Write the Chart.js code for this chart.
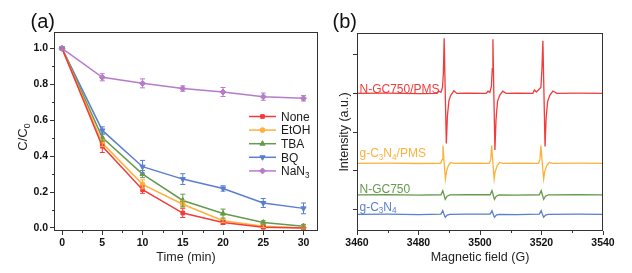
<!DOCTYPE html>
<html><head><meta charset="utf-8">
<script src="https://cdn.jsdelivr.net/npm/chart.js@4.4.1/dist/chart.umd.min.js"></script>
<style>
html,body{margin:0;padding:0;background:#fff;}
#wrap{position:relative;width:632px;height:273px;overflow:hidden;background:#fff;}
#ca{position:absolute;left:0;top:0;}
#cb{position:absolute;left:323px;top:0;}
</style></head><body>
<div id="wrap">
<canvas id="ca" width="323" height="273"></canvas>
<canvas id="cb" width="309" height="273"></canvas>
</div>
<script>
// ---------- Panel (a) data ----------
const timeMin = [0, 5, 10, 15, 20, 25, 30];
const cNone  = [1.0, 0.455, 0.213, 0.083, 0.03, 0.004, 0.0];
const cEtOH  = [1.0, 0.473, 0.243, 0.132, 0.04, 0.01, 0.0];
const cTBA   = [1.0, 0.503, 0.300, 0.153, 0.08, 0.03, 0.01];
const cBQ    = [1.0, 0.543, 0.341, 0.272, 0.22, 0.139, 0.109];
const cNaN3  = [1.0, 0.839, 0.805, 0.776, 0.757, 0.731, 0.722];
const eNone  = [0.005, 0.035, 0.02, 0.025, 0.01, 0.008, 0.005];
const eEtOH  = [0.005, 0.02, 0.025, 0.02, 0.01, 0.008, 0.005];
const eTBA   = [0.005, 0.02, 0.02, 0.035, 0.025, 0.01, 0.01];
const eBQ    = [0.005, 0.02, 0.035, 0.03, 0.015, 0.025, 0.03];
const eNaN3  = [0.008, 0.02, 0.025, 0.015, 0.025, 0.02, 0.015];
const seriesNamesA = ['None', 'EtOH', 'TBA', 'BQ', 'NaN3'];
const xTicksA = [0, 5, 10, 15, 20, 25, 30];
const xMinorA = [2.5, 7.5, 12.5, 17.5, 22.5, 27.5];
const yTicksA = [0.0, 0.2, 0.4, 0.6, 0.8, 1.0];
const yMinorA = [0.1, 0.3, 0.5, 0.7, 0.9];

// ---------- Panel (b) data (EPR spectra, field in G, intensity a.u.) ----------
const fieldRed = [3460,3470,3480,3486.0,3486.6,3487.3,3487.8,3488.1,3488.35,3488.7,3489.05,3489.4,3489.9,3490.5,3491.5,3492.5,3496,
  3502.0,3502.6,3503.2,3503.7,3504.0,3504.2,3504.5,3504.85,3505.2,3505.7,3506.4,3507.4,3508.5,3512,
  3517.2,3517.7,3518.3,3519.8,3520.15,3520.45,3520.8,3521.15,3521.5,3522.0,3522.7,3523.7,3525,3532,3540];
const intRed = [69.5,69.6,69.4,69.5,70.6,70.0,72.5,80,97.3,69.5,44.2,58,66,68.5,70.8,69.5,69.6,
  69.5,70.6,70.0,73,82,96.8,69.5,40.9,56,65.5,68.5,70.6,69.5,69.6,
  69.5,71.2,70.2,72.5,82,96.1,69.5,42.7,57,65.5,68.5,70.7,69.5,69.6,69.5];
const fieldOrange = [3460,3470,3480,3487.2,3487.7,3487.95,3488.35,3488.75,3489.1,3489.7,3490.5,3491.5,3496,
  3503.0,3503.5,3503.8,3504.2,3504.6,3504.95,3505.6,3506.4,3507.4,3512,
  3519.0,3519.5,3519.8,3520.25,3520.7,3521.05,3521.7,3522.5,3523.5,3532,3540];
const intOrange = [34.2,34.3,34.1,34.2,36,43.1,34.2,26.3,30,33,34.6,34.2,34.3,
  34.2,36,43.1,34.2,26.3,30,33,34.6,34.2,34.3,
  34.2,36,43.1,34.2,26.3,30,33,34.6,34.2,34.3,34.2];
const fieldWeak = [3460,3470,3480,3487.3,3487.9,3488.3,3488.7,3489.3,3490.2,3496,
  3503.3,3503.9,3504.3,3504.7,3505.3,3506.2,3512,
  3519.3,3519.9,3520.3,3520.7,3521.3,3522.2,3532,3540];
const intGreen = [18.2,18.4,18.1,18.3,20.4,18.2,16.0,17.6,18.2,18.3,
  18.3,20.4,18.2,16.0,17.6,18.2,18.1,
  18.3,20.4,18.2,16.0,17.6,18.2,18.3,18.2];
const intBlue = [8.4,8.5,8.3,8.5,10.3,8.4,6.9,8.0,8.4,8.5,
  8.5,10.3,8.4,6.9,8.0,8.4,8.3,
  8.5,10.3,8.4,6.9,8.0,8.4,8.5,8.4];
const xTicksB = [3460, 3480, 3500, 3520, 3540];
const xMinorB = [3470, 3490, 3510, 3530];
const yTicksB = [11, 30.5, 50, 69.5, 89];

// ---------- styling helpers ----------
const FF = '"Liberation Sans", Arial, Helvetica, sans-serif';
const RED = '#f23b3b', ORANGE = '#fdb13b', GREEN = '#669a4c', BLUE = '#5a7ed0', PURPLE = '#b67cc9';

function partsOf(name) {
  if (name === 'NaN3') return [['NaN',0],['3',1]];
  if (name === 'g-C3N4/PMS') return [['g-C',0],['3',1],['N',0],['4',1],['/PMS',0]];
  if (name === 'g-C3N4') return [['g-C',0],['3',1],['N',0],['4',1]];
  if (name === 'C/C0') return [['C/C',0],['0',1]];
  return [[name,0]];
}
function drawRich(ctx, parts, x, y, size, align, color, weight) {
  const sub = size * 0.68, w = [];
  let total = 0;
  parts.forEach(([t, s]) => { ctx.font = (weight||'') + ' ' + (s ? sub : size) + 'px ' + FF; const m = ctx.measureText(t).width; w.push(m); total += m; });
  let cx = align === 'center' ? x - total / 2 : x;
  ctx.fillStyle = color; ctx.textBaseline = 'alphabetic'; ctx.textAlign = 'left';
  parts.forEach(([t, s], i) => { ctx.font = (weight||'') + ' ' + (s ? sub : size) + 'px ' + FF; ctx.fillText(t, cx, s ? y + size * 0.22 : y); cx += w[i]; });
}

const framePlugin = {
  id: 'frame',
  afterDraw(chart, args, o) {
    const {ctx, chartArea: a, scales} = chart;
    ctx.save();
    ctx.strokeStyle = '#333'; ctx.lineWidth = 1;
    const l = Math.floor(a.left) + 0.5, t = Math.floor(a.top) + 0.5, r = Math.ceil(a.right) - 0.5, b = Math.ceil(a.bottom) - 0.5;
    ctx.strokeRect(l, t, r - l, b - t);
    ctx.beginPath();
    (o.minorX || []).forEach(v => { const px = Math.round(scales.x.getPixelForValue(v)) + 0.5; ctx.moveTo(px, b); ctx.lineTo(px, b + 2.5); });
    (o.minorY || []).forEach(v => { const py = Math.round(scales.y.getPixelForValue(v)) + 0.5; ctx.moveTo(l, py); ctx.lineTo(l - 2.5, py); });
    ctx.stroke();
    ctx.restore();
  }
};

const errPlugin = {
  id: 'errbars',
  afterDatasetsDraw(chart) {
    const {ctx, scales} = chart;
    chart.data.datasets.forEach((ds, i) => {
      if (!ds.errors) return;
      const meta = chart.getDatasetMeta(i);
      ctx.save();
      ctx.strokeStyle = ds.borderColor; ctx.lineWidth = 1;
      ctx.beginPath();
      meta.data.forEach((pt, j) => {
        const v = ds.data[j].y, e = ds.errors[j];
        const y1 = scales.y.getPixelForValue(v - e), y2 = scales.y.getPixelForValue(v + e);
        ctx.moveTo(pt.x, y1); ctx.lineTo(pt.x, y2);
        ctx.moveTo(pt.x - 2.5, y1); ctx.lineTo(pt.x + 2.5, y1);
        ctx.moveTo(pt.x - 2.5, y2); ctx.lineTo(pt.x + 2.5, y2);
      });
      ctx.stroke();
      ctx.restore();
    });
  }
};

const keyPlugin = {
  id: 'seriesKey',
  afterDraw(chart, args, o) {
    if (!o.show) return;
    const ctx = chart.ctx;
    chart.data.datasets.forEach((ds, i) => {
      const y = o.y + i * o.dy;
      ctx.save();
      ctx.strokeStyle = ds.borderColor; ctx.lineWidth = 1.5;
      ctx.beginPath(); ctx.moveTo(o.x, y); ctx.lineTo(o.x + o.len, y); ctx.stroke();
      ctx.fillStyle = ds.backgroundColor; ctx.lineWidth = 1;
      Chart.helpers.drawPoint(ctx, {pointStyle: ds.pointStyle, rotation: ds.pointRotation || 0, radius: ds.pointRadius, borderWidth: 1}, o.x + o.len / 2, y);
      drawRich(ctx, partsOf(ds.label), o.x + o.len + o.gap, y + 4.3, 12, 'left', '#1a1a1a');
      ctx.restore();
    });
  }
};

const textPlugin = {
  id: 'texts',
  afterDraw(chart, args, o) {
    const ctx = chart.ctx;
    (o.items || []).forEach(it => {
      ctx.save();
      if (it.rot) { ctx.translate(it.x, it.y); ctx.rotate(-Math.PI / 2); drawRich(ctx, partsOf(it.text), 0, it.size * 0.35, it.size, 'center', it.color, it.weight); }
      else drawRich(ctx, partsOf(it.text), it.x, it.y, it.size, it.align || 'left', it.color, it.weight);
      ctx.restore();
    });
  }
};

function axisCommon(extra) {
  return Object.assign({
    type: 'linear',
    grid: {drawOnChartArea: false, drawTicks: true, tickLength: 4, tickColor: '#333', color: '#333', lineWidth: 1},
    border: {display: false},
    ticks: {font: {family: FF, size: 10.5, weight: 'bold'}, color: '#111', padding: 2, maxRotation: 0, autoSkip: false}
  }, extra);
}

// ---------- Panel (a) ----------
const valuesA = [cNone, cEtOH, cTBA, cBQ, cNaN3];
const errorsA = [eNone, eEtOH, eTBA, eBQ, eNaN3];
const colorsA = [RED, ORANGE, GREEN, BLUE, PURPLE];
const stylesA = [['rect', 0, 2.6], ['circle', 0, 2.4], ['triangle', 0, 3], ['triangle', 180, 3], ['rectRot', 0, 3]];
const ordersA = [1, 2, 3, 4, 0];

new Chart(document.getElementById('ca'), {
  type: 'line',
  data: {
    datasets: seriesNamesA.map((name, k) => ({
      label: name,
      data: timeMin.map((t, i) => ({x: t, y: valuesA[k][i]})),
      errors: errorsA[k],
      borderColor: colorsA[k], backgroundColor: colorsA[k],
      pointStyle: stylesA[k][0], pointRotation: stylesA[k][1], pointRadius: stylesA[k][2],
      pointBorderWidth: 1, borderWidth: 1.5, tension: 0, order: ordersA[k]
    }))
  },
  options: {
    responsive: false, animation: false,
    layout: {padding: {left: 0, right: 2, top: 32, bottom: 0}},
    plugins: {
      legend: {display: false}, tooltip: {enabled: false},
      frame: {minorX: xMinorA, minorY: yMinorA},
      seriesKey: {show: true, x: 249, y: 116.5, dy: 13.6, len: 27, gap: 5},
      texts: {items: [
        {text: '(a)', x: 30.5, y: 27.5, size: 20, color: '#111'},
        {text: 'C/C0', x: 22.5, y: 137, size: 13, color: '#222', rot: true}
      ]}
    },
    scales: {
      x: axisCommon({min: -1, max: 31.8,
        afterBuildTicks: s => { s.ticks = xTicksA.map(v => ({value: v})); },
        afterFit: s => { s.height = 42; },
        ticks: {font: {family: FF, size: 10.5, weight: 'bold'}, color: '#111', padding: 2, maxRotation: 0, autoSkip: false, callback: v => String(v)},
        title: {display: true, text: 'Time (min)', font: {family: FF, size: 12.5}, color: '#222', padding: {top: 0, bottom: 8}}
      }),
      y: axisCommon({min: -0.017, max: 1.091,
        afterBuildTicks: s => { s.ticks = yTicksA.map(v => ({value: v})); },
        afterFit: s => { s.width = 54; },
        ticks: {font: {family: FF, size: 10.5, weight: 'bold'}, color: '#111', padding: 2, autoSkip: false, callback: v => Number(v).toFixed(1)}
      })
    }
  },
  plugins: [framePlugin, errPlugin, keyPlugin, textPlugin]
});

// ---------- Panel (b) ----------
const specNames = ['N-GC750/PMS', 'g-C3N4/PMS', 'N-GC750', 'g-C3N4'];
const specFields = [fieldRed, fieldOrange, fieldWeak, fieldWeak];
const specValues = [intRed, intOrange, intGreen, intBlue];
const colorsB = [RED, ORANGE, GREEN, BLUE];

new Chart(document.getElementById('cb'), {
  type: 'line',
  data: {
    datasets: specNames.map((name, k) => ({
      label: name,
      data: specFields[k].map((f, i) => ({x: f, y: specValues[k][i]})),
      borderColor: colorsB[k], backgroundColor: colorsB[k],
      pointRadius: 0, borderWidth: 1.3, tension: 0
    }))
  },
  options: {
    responsive: false, animation: false,
    layout: {padding: {left: 0, right: 29, top: 33, bottom: 0}},
    plugins: {
      legend: {display: false}, tooltip: {enabled: false},
      frame: {minorX: xMinorB, minorY: []},
      texts: {items: [
        {text: '(b)', x: 9.5, y: 27.5, size: 20, color: '#111'},
        {text: specNames[0], x: 36.5, y: 93, size: 12, color: RED},
        {text: specNames[1], x: 36.5, y: 157, size: 12, color: ORANGE},
        {text: specNames[2], x: 36.5, y: 193, size: 12, color: GREEN},
        {text: specNames[3], x: 36.5, y: 210.5, size: 12, color: BLUE}
      ]}
    },
    scales: {
      x: axisCommon({min: 3460, max: 3540,
        afterBuildTicks: s => { s.ticks = xTicksB.map(v => ({value: v})); },
        afterFit: s => { s.height = 42; },
        ticks: {font: {family: FF, size: 10.5, weight: 'bold'}, color: '#111', padding: 2, maxRotation: 0, autoSkip: false, callback: v => String(v)},
        title: {display: true, text: 'Magnetic field (G)', font: {family: FF, size: 12.5}, color: '#222', padding: {top: 0, bottom: 8}}
      }),
      y: axisCommon({min: 0, max: 100,
        afterBuildTicks: s => { s.ticks = yTicksB.map(v => ({value: v})); },
        afterFit: s => { s.width = 34; },
        ticks: {display: false},
        title: {display: true, text: 'Intensity (a.u.)', font: {family: FF, size: 12.5}, color: '#222', padding: {top: 14.5, bottom: 0}}
      })
    }
  },
  plugins: [framePlugin, textPlugin]
});
</script>
</body></html>
